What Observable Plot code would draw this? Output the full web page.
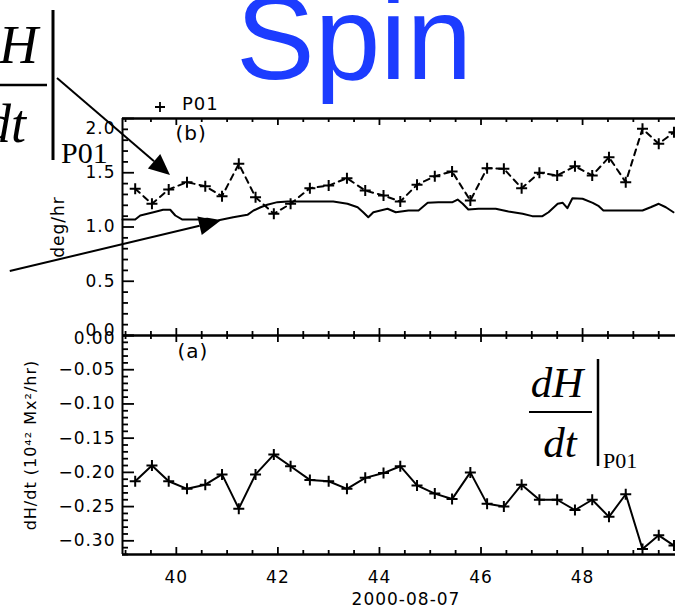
<!DOCTYPE html>
<html><head><meta charset="utf-8">
<script src="https://cdn.jsdelivr.net/npm/d3@7"></script>
<script src="https://cdn.jsdelivr.net/npm/@observablehq/plot@0.6"></script>
<style>
html,body{margin:0;padding:0;background:#fff;}
#wrap{position:relative;width:675px;height:611px;overflow:hidden;background:#fff;}
#wrap svg{position:absolute;left:0;top:0;}
#wrap svg.plotsvg text{letter-spacing:1px;}
</style></head><body><div id="wrap"></div>
<script>
// ---- data ----
const hours = [39.19, 39.52, 39.85, 40.21, 40.57, 40.90, 41.23, 41.56, 41.92, 42.25, 42.63, 43.00, 43.36, 43.72, 44.08, 44.41, 44.74, 45.09, 45.43, 45.79, 46.12, 46.45, 46.80, 47.15, 47.50, 47.85, 48.19, 48.52, 48.85, 49.18, 49.50, 49.80];
const p01Spin = [1.352, 1.214, 1.346, 1.413, 1.376, 1.284, 1.582, 1.275, 1.122, 1.214, 1.358, 1.382, 1.450, 1.336, 1.290, 1.235, 1.389, 1.468, 1.512, 1.244, 1.542, 1.536, 1.358, 1.500, 1.475, 1.560, 1.475, 1.643, 1.413, 1.905, 1.767, 1.874];
const dHdt = [-0.213, -0.190, -0.213, -0.224, -0.218, -0.203, -0.253, -0.203, -0.174, -0.191, -0.211, -0.213, -0.224, -0.208, -0.201, -0.191, -0.219, -0.231, -0.239, -0.200, -0.246, -0.250, -0.218, -0.240, -0.240, -0.255, -0.240, -0.265, -0.232, -0.312, -0.292, -0.307];
const spinHours = [38.94, 39.19, 39.29, 39.55, 39.74, 39.88, 39.98, 40.12, 40.41, 40.61, 40.81, 41.12, 41.40, 41.52, 41.66, 41.79, 41.99, 42.19, 43.09, 43.37, 43.57, 43.68, 43.78, 43.88, 44.16, 44.32, 44.57, 44.77, 44.95, 45.16, 45.44, 45.54, 45.64, 45.75, 45.95, 46.29, 46.54, 46.82, 47.01, 47.21, 47.33, 47.51, 47.61, 47.70, 47.80, 48.00, 48.20, 48.32, 48.41, 49.18, 49.34, 49.50, 49.64, 49.79];
const spinValues = [1.069, 1.069, 1.106, 1.136, 1.159, 1.159, 1.106, 1.069, 1.069, 1.076, 1.060, 1.090, 1.112, 1.152, 1.182, 1.205, 1.229, 1.235, 1.235, 1.214, 1.182, 1.136, 1.090, 1.136, 1.168, 1.136, 1.152, 1.152, 1.223, 1.229, 1.229, 1.253, 1.214, 1.161, 1.168, 1.168, 1.143, 1.122, 1.100, 1.100, 1.136, 1.214, 1.223, 1.173, 1.265, 1.260, 1.223, 1.192, 1.152, 1.152, 1.182, 1.214, 1.182, 1.136];
const xTickLabels = [40, 42, 44, 46, 48];
const topYTickLabels = [0, 0.5, 1.0, 1.5, 2.0];
const botYTickLabels = [0, -0.05, -0.10, -0.15, -0.20, -0.25, -0.30];
const seriesName = "P01";
const topYLabel = "deg/hr";
const botYLabel = "dH/dt (10\u2074\u00B2 Mx\u00B2/hr)";
const xLabel = "2000-08-07";
const title = "Spin";
const arrowFrom = [[37.66, 2.369], [36.73, 0.590]];
const arrowTo = [[39.885, 1.475], [40.87, 1.051]];

// ---- layout ----
const W = 675, H = 611, ML = 122, MR = 0;
const xDomain = [38.94, 49.83];
const topTop = 118, mid = 335, botBottom = 554;
const FONT = "DejaVu Sans";
const plotW = W - ML - MR;

const plusSym = {draw(ctx, size) { const r = Math.sqrt(size / Math.PI); ctx.moveTo(-r, 0); ctx.lineTo(r, 0); ctx.moveTo(0, -r); ctx.lineTo(0, r); }};
const fmt2 = d3.format(".2f"), fmt1 = d3.format(".1f");

const xMajor = d3.range(40, 49, 2);
const xMinor = d3.range(39, 50, 0.5).filter(v => v % 2 !== 0);
function xTicks(h) {
  return [
    Plot.ruleX(xMajor, {x: d => d, insetBottom: h - 7, strokeWidth: 1.8}),
    Plot.ruleX(xMinor, {x: d => d, insetBottom: h - 4, strokeWidth: 1.8}),
    Plot.ruleX(xMajor, {x: d => d, insetTop: h - 7, strokeWidth: 1.8}),
    Plot.ruleX(xMinor, {x: d => d, insetTop: h - 4, strokeWidth: 1.8})
  ];
}
const common = {width: W, height: H, marginLeft: ML, marginRight: MR,
  style: {background: "transparent", overflow: "visible", fontFamily: FONT, fontSize: "17px"}};

const topMajor = topYTickLabels;
const topMinor = d3.range(0, 2.001, 0.1).filter(v => Math.abs(v * 2 - Math.round(v * 2)) > 1e-6);
const topH = mid - topTop;
const topChart = Plot.plot({
  ...common, marginTop: topTop, marginBottom: H - mid,
  x: {domain: xDomain, axis: null},
  y: {domain: [0, 2.0], axis: null},
  marks: [
    Plot.ruleY(topMajor, {y: d => d, insetRight: plotW - 12, strokeWidth: 1.8}),
    Plot.ruleY(topMinor, {y: d => d, insetRight: plotW - 6, strokeWidth: 1.8}),
    ...xTicks(topH),
    Plot.ruleY([2.0], {strokeWidth: 2.5}),
    Plot.ruleY([0], {strokeWidth: 2}),
    Plot.ruleX([xDomain[0]], {strokeWidth: 2}),
    Plot.text(topYTickLabels.filter(d => d > 0 && d < 2), {y: d => d, text: d => fmt1(d), frameAnchor: "left", textAnchor: "end", dx: -7, fontSize: 17, fontFamily: FONT}),
    Plot.text([2.0], {y: d => d, text: d => fmt1(d), frameAnchor: "left", textAnchor: "end", dx: -7, dy: 10, fontSize: 17, fontFamily: FONT}),
    Plot.text([0], {y: d => d, text: d => fmt1(d), frameAnchor: "left", textAnchor: "end", dx: -7, dy: -5, fontSize: 17, fontFamily: FONT}),
    Plot.text([topYLabel], {frameAnchor: "left", textAnchor: "middle", rotate: -90, dx: -64, fontSize: 17, fontFamily: FONT}),
    Plot.text(["(b)"], {frameAnchor: "top-left", lineAnchor: "middle", dx: 53, dy: 15, fontSize: 20, fontFamily: FONT}),
    Plot.line(spinHours.map((h, i) => ({h, v: spinValues[i]})), {x: "h", y: "v", stroke: "black", strokeWidth: 2}),
    Plot.line(hours.map((h, i) => ({h, v: p01Spin[i]})), {x: "h", y: "v", stroke: "black", strokeWidth: 2, strokeDasharray: "6,5"}),
    Plot.dot(hours.map((h, i) => ({h, v: p01Spin[i]})), {x: "h", y: "v", symbol: plusSym, r: 5.5, fill: "none", stroke: "black", strokeWidth: 2})
  ]
});
topChart.classList.add("plotsvg");

const botMajor = botYTickLabels;
const botMinor = d3.range(0, 33).map(i => -i / 100).filter(v => Math.round(-v * 100) % 5 !== 0);
const botH = botBottom - mid;
const botChart = Plot.plot({
  ...common, marginTop: mid, marginBottom: H - botBottom,
  x: {domain: xDomain, axis: null},
  y: {domain: [-0.32, 0], axis: null},
  marks: [
    Plot.ruleY(botMajor, {y: d => d, insetRight: plotW - 12, strokeWidth: 1.8}),
    Plot.ruleY(botMinor, {y: d => d, insetRight: plotW - 6, strokeWidth: 1.8}),
    ...xTicks(botH),
    Plot.ruleY([0], {strokeWidth: 2}),
    Plot.ruleY([-0.32], {strokeWidth: 2.5}),
    Plot.ruleX([xDomain[0]], {strokeWidth: 2}),
    Plot.text(botYTickLabels.filter(d => d < 0), {y: d => d, text: d => fmt2(d), frameAnchor: "left", textAnchor: "end", dx: -7, fontSize: 17, fontFamily: FONT}),
    Plot.text([0], {y: d => d, text: d => fmt2(d), frameAnchor: "left", textAnchor: "end", dx: -7, dy: 3, fontSize: 17, fontFamily: FONT}),
    Plot.text(xTickLabels, {x: d => d, text: d => String(d), frameAnchor: "bottom", lineAnchor: "top", dy: 16, fontSize: 17, fontFamily: FONT}),
    Plot.text([xLabel], {frameAnchor: "bottom", lineAnchor: "top", dx: 7, dy: 38, fontSize: 17, fontFamily: FONT}),
    Plot.text([botYLabel], {frameAnchor: "left", textAnchor: "middle", rotate: -90, dx: -92, fontSize: 16, fontFamily: FONT}),
    Plot.text(["(a)"], {frameAnchor: "top-left", lineAnchor: "middle", dx: 55, dy: 16, fontSize: 20, fontFamily: FONT}),
    Plot.line(hours.map((h, i) => ({h, v: dHdt[i]})), {x: "h", y: "v", stroke: "black", strokeWidth: 2}),
    Plot.dot(hours.map((h, i) => ({h, v: dHdt[i]})), {x: "h", y: "v", symbol: plusSym, r: 5.5, fill: "none", stroke: "black", strokeWidth: 2})
  ]
});
botChart.classList.add("plotsvg");

const wrap = document.getElementById("wrap");
wrap.appendChild(topChart);
wrap.appendChild(botChart);

// ---- annotation overlay ----
const NS = "http://www.w3.org/2000/svg";
function el(tag, attrs, parent, text) {
  const e = document.createElementNS(NS, tag);
  for (const k in attrs) e.setAttribute(k, attrs[k]);
  if (text != null) e.textContent = text;
  parent.appendChild(e);
  return e;
}
const ov = el("svg", {width: W, height: H, viewBox: `0 0 ${W} ${H}`}, wrap);

function scaleFn(chart, name) {
  const s = chart.scale(name);
  if (s && typeof s.apply === "function") return v => s.apply(v);
  return d3.scaleLinear(s.domain, s.range);
}
const fx = scaleFn(topChart, "x"), fy = scaleFn(topChart, "y");

// title
el("text", {x: 236, y: 79, "font-family": "Liberation Sans, Arial, sans-serif", "font-size": 118, fill: "#1c3cff"}, ov, title);

// left fraction
const serif = "Liberation Serif, Times New Roman, serif";
el("text", {x: 5, y: 63, "text-anchor": "middle", "font-family": serif, "font-style": "italic", "font-size": 54}, ov, "dH");
el("line", {x1: -30, x2: 47, y1: 85, y2: 85, stroke: "black", "stroke-width": 2.5}, ov);
el("text", {x: 5, y: 142, "text-anchor": "middle", "font-family": serif, "font-style": "italic", "font-size": 54}, ov, "dt");
el("line", {x1: 53, x2: 53, y1: 10, y2: 160, stroke: "black", "stroke-width": 3}, ov);
el("text", {x: 61, y: 163, "font-family": serif, "font-size": 30}, ov, seriesName);

// bottom-right fraction
el("text", {x: 557, y: 397, "text-anchor": "middle", "font-family": serif, "font-style": "italic", "font-size": 43}, ov, "dH");
el("line", {x1: 529, x2: 592, y1: 412, y2: 412, stroke: "black", "stroke-width": 2}, ov);
el("text", {x: 560, y: 457, "text-anchor": "middle", "font-family": serif, "font-style": "italic", "font-size": 43}, ov, "dt");
el("line", {x1: 598, x2: 598, y1: 359, y2: 466, stroke: "black", "stroke-width": 2.5}, ov);
el("text", {x: 603, y: 468, "font-family": serif, "font-size": 22}, ov, seriesName);

// legend
el("path", {d: "M155,107h10M160,102v10", stroke: "black", "stroke-width": 1.8, fill: "none"}, ov);
el("text", {x: 182, y: 110, "font-family": FONT, "font-size": 18, "letter-spacing": "1px"}, ov, seriesName);

// arrows
arrowFrom.forEach((a, i) => {
  const x0 = fx(a[0]), y0 = fy(a[1]);
  const x1 = fx(arrowTo[i][0]), y1 = fy(arrowTo[i][1]);
  const dx = x1 - x0, dy = y1 - y0, len = Math.hypot(dx, dy);
  const ux = dx / len, uy = dy / len;
  const hl = 21, hw = 9.5;
  const bx = x1 - ux * hl, by = y1 - uy * hl;
  el("line", {x1: x0, y1: y0, x2: bx, y2: by, stroke: "black", "stroke-width": 2}, ov);
  el("polygon", {points: `${x1},${y1} ${bx - uy * hw},${by + ux * hw} ${bx + uy * hw},${by - ux * hw}`, fill: "black"}, ov);
});
</script></body></html>
